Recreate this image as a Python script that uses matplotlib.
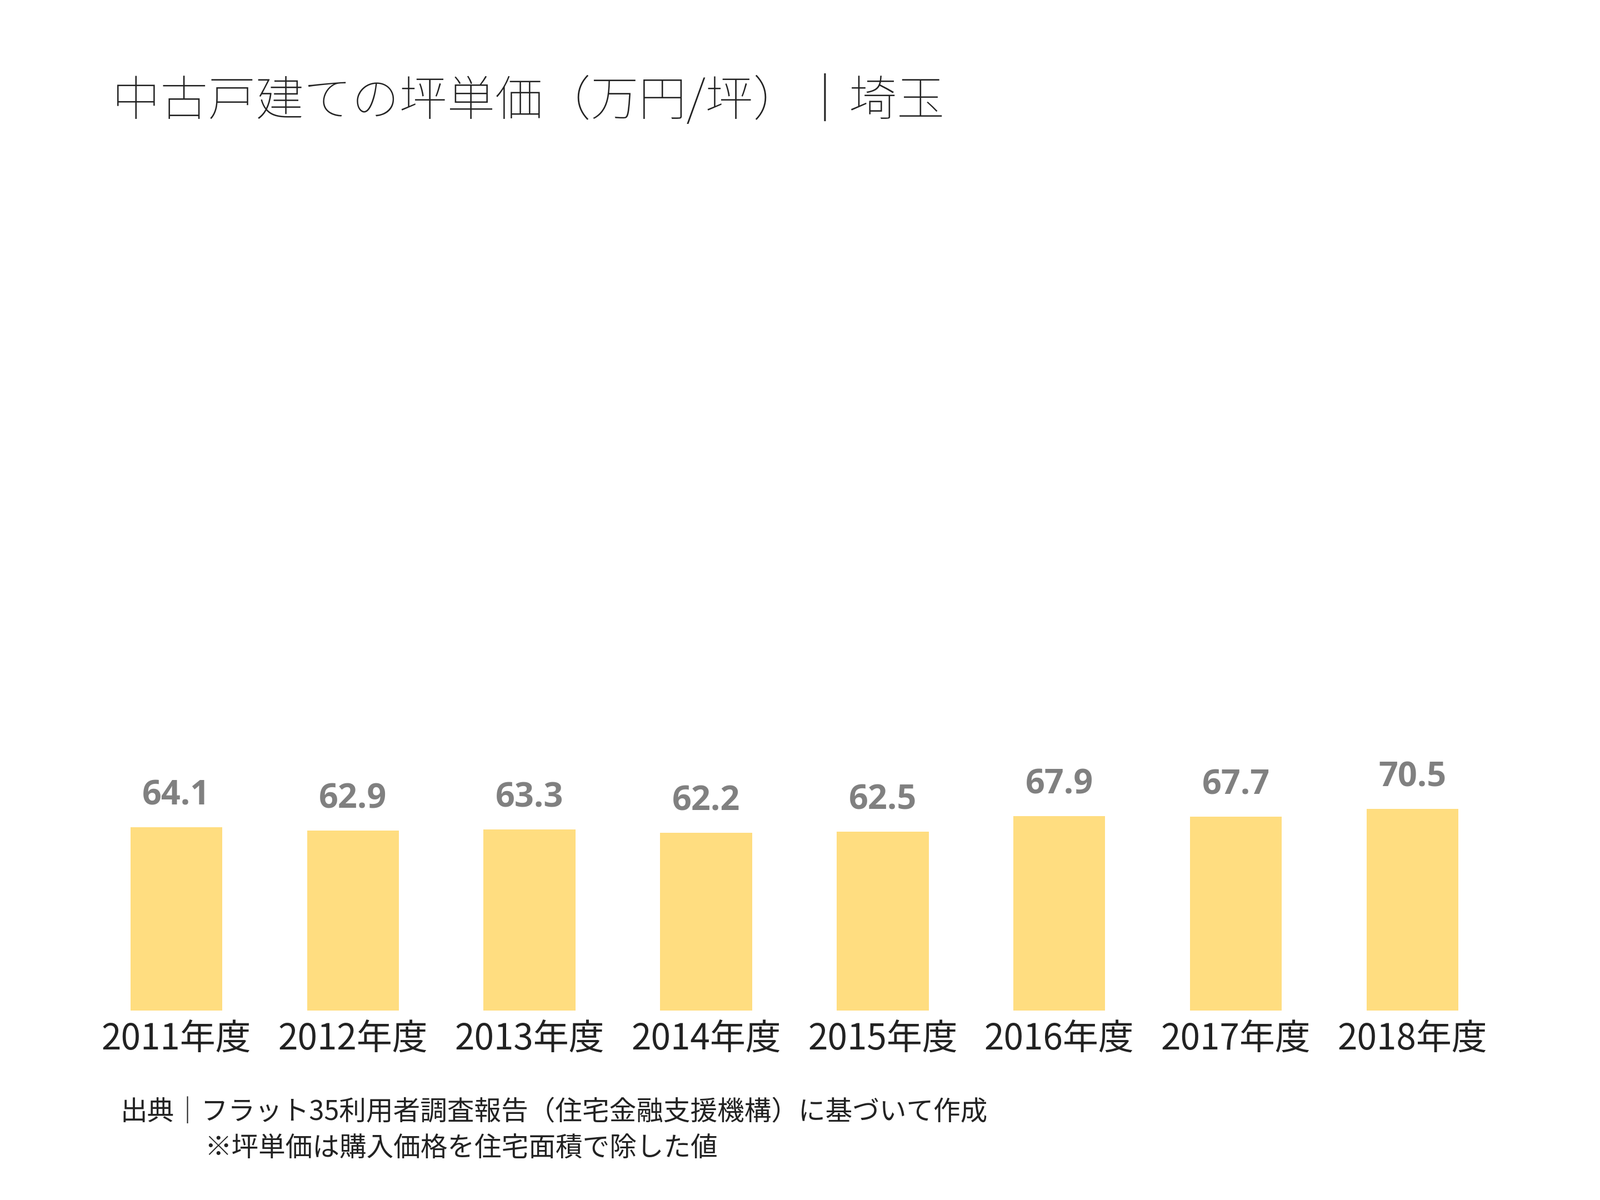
import matplotlib
matplotlib.use("Agg")
import matplotlib.pyplot as plt

years = ["2011年度", "2012年度", "2013年度", "2014年度", "2015年度", "2016年度", "2017年度", "2018年度"]
values = [64.1, 62.9, 63.3, 62.2, 62.5, 67.9, 67.7, 70.5]

plt.rcParams["font.family"] = "Noto Sans CJK JP"

fig = plt.figure(figsize=(28.8, 21.6), dpi=100)
ax = fig.add_axes([0.055, 0.158, 0.883, 0.705])
x = range(len(years))
bars = ax.bar(x, values, width=0.52, color="#FFDD80")
for xi, v in zip(x, values):
    ax.text(xi, v + 5, f"{v}", ha="center", va="bottom", fontsize=44,
            fontweight="bold", color="#808080", family="Open Sans")
ax.set_xlim(-0.5, len(years) - 0.5)
ax.set_ylim(0, 296)
ax.set_xticks(list(x))
ax.set_xticklabels(years, fontsize=46, color="#222222")
ax.tick_params(axis="x", length=0, pad=14)
ax.set_yticks([])
for s in ax.spines.values():
    s.set_visible(False)

fig.text(0.07, 0.915, "中古戸建ての坪単価（万円/坪）｜埼玉", fontsize=62,
         fontweight="light", color="#222222", va="center")
fig.text(0.075, 0.073, "出典｜フラット35利用者調査報告（住宅金融支援機構）に基づいて作成",
         fontsize=35, color="#222222", va="center")
fig.text(0.128, 0.043, "※坪単価は購入価格を住宅面積で除した値",
         fontsize=35, color="#222222", va="center")

fig.savefig("out.png")
